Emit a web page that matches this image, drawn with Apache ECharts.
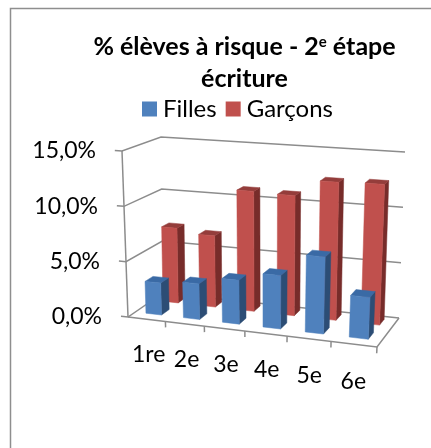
<!DOCTYPE html>
<html><head><meta charset="utf-8">
<style>html,body{margin:0;padding:0;background:#fff}#c{width:431px;height:448px}</style>
<script src="https://cdn.jsdelivr.net/npm/echarts@6/dist/echarts.min.js"></script>
</head><body><div id="c"></div>
<script>
const categories = ['1re','2e','3e','4e','5e','6e'];
const filles = [2.9,3.2,3.9,4.7,6.7,3.6];
const garcons = [7.0,6.6,11.0,10.9,12.4,12.5];
const yTicks = [0,5,10,15];
const seriesNames = ['Filles','Garçons'];
const titleText = '% élèves à risque - 2{sup|e} étape\nécriture';

// Perspective of the box
const FONT='Lato', GRID={left:128,top:151,width:271,height:166};
const FLOOR=[[128,317],[377,347],[399,318],[163,293]];
const ROOF=[[122,151],[386,170],[405,152],[161,137]];
function homog(q){
  const [[x0,y0],[x1,y1],[x2,y2],[x3,y3]]=q;
  const dx1=x1-x2,dx2=x3-x2,sx=x0-x1+x2-x3,dy1=y1-y2,dy2=y3-y2,sy=y0-y1+y2-y3;
  const d=dx1*dy2-dx2*dy1,g=(sx*dy2-dx2*sy)/d,h=(dx1*sy-sx*dy1)/d;
  const a=x1-x0+g*x1,b=x3-x0+h*x3,e=y1-y0+g*y1,f=y3-y0+h*y3;
  return (u,w)=>{const k=g*u+h*w+1;return [(a*u+b*w+x0)/k,(e*u+f*w+y0)/k];};
}
const HF=homog(FLOOR),HR=homog(ROOF);
function project(u,v,w){const a=HF(u,w),b=HR(u,w);return [a[0]+(b[0]-a[0])*v,a[1]+(b[1]-a[1])*v];}
function norm(p){return [(p[0]-GRID.left)/GRID.width,(GRID.top+GRID.height-p[1])/GRID.height];}

const GRIDCOL='#8c8c8c';
function line(pts){return {type:'polyline',shape:{points:pts},style:{stroke:GRIDCOL,lineWidth:1.5,fill:null}};}

function barRender(w0,w1,front,side,top){
  return function(params,api){
    const base=api.coord([api.value(0),0]),tip=api.coord([api.value(0),api.value(1)]);
    const cw=api.size([1,0])[0]/GRID.width;
    const [uc]=norm(base),[,v]=norm(tip);
    const u0=uc-cw*0.21,u1=uc+cw*0.21;
    const poly=(pts,fill)=>({type:'polygon',shape:{points:pts},style:{fill:fill,stroke:fill,lineWidth:0.5}});
    return {type:'group',children:[
      poly([project(u1,0,w0),project(u1,0,w1),project(u1,v,w1),project(u1,v,w0)],side),
      poly([project(u0,v,w0),project(u1,v,w0),project(u1,v,w1),project(u0,v,w1)],top),
      poly([project(u0,0,w0),project(u1,0,w0),project(u1,v,w0),project(u0,v,w0)],front)
    ]};
  };
}
function wallRender(params,api){
  const [,v]=norm(api.coord([0,api.value(0)]));
  const kids=[line([project(-0.032,v,0),project(0,v,0),project(0,v,1),project(1,v,1)])];
  if(params.dataIndex===0){
    kids.push(line([project(0,0,0),project(1,0,0),project(1,0,1)]));
    kids.push(line([project(0,0,0),project(0,1,0)]));
  }
  return {type:'group',children:kids};
}
function xAxisRender(params,api){
  const i=api.value(0),[uc]=norm(api.coord([i,0])),cw=api.size([1,0])[0]/GRID.width;
  const ue=uc+cw/2,p=project(uc,-0.21,0);
  return {type:'group',children:[
    line([project(ue,0,0),project(ue,-0.035,0)]),
    {type:'text',x:p[0]+1,y:p[1],style:{text:categories[i],fontFamily:FONT,fontSize:23,fill:'#000',align:'center',verticalAlign:'middle'}}
  ]};
}
const pad={15:6,10:4,5:2,0:0};
const rich={};yTicks.forEach(t=>{rich['t'+t]={padding:[0,pad[t],0,0],fontFamily:FONT,fontSize:23,color:'#000'};});

const chart=echarts.init(document.getElementById('c'),null,{renderer:'canvas'});
chart.setOption({
  animation:false,backgroundColor:'#fff',
  title:{text:titleText,left:239.5,top:26,textAlign:'center',
    textStyle:{fontFamily:FONT,fontWeight:'bold',fontSize:25,lineHeight:32,color:'#000',
      rich:{sup:{fontFamily:FONT,fontWeight:'bold',fontSize:15,color:'#000',padding:[0,0,10,0]}}}},
  legend:{data:seriesNames,left:142,top:97,padding:0,itemWidth:15,itemHeight:15,itemGap:9,icon:'rect',
    textStyle:{fontFamily:FONT,fontSize:24,color:'#000',padding:[0,0,0,1]}},
  grid:GRID,
  xAxis:{type:'category',data:categories,show:false},
  yAxis:{type:'value',min:0,max:15,interval:5,splitLine:{show:false},axisLine:{show:false},axisTick:{show:false},
    axisLabel:{margin:26,formatter:v=>'{t'+v+'|'+v.toFixed(1).replace('.',',')+'%}',rich:rich}},
  graphic:[{type:'polyline',z:100,shape:{points:[[10.5,448],[10.5,8.5],[431,8.5]]},style:{stroke:'#8e8e8e',lineWidth:1.5,fill:null}}],
  series:[
    {name:'Filles',type:'custom',z:4,itemStyle:{color:'#4F81BD'},renderItem:barRender(0.2,0.42,'#4F81BD','#2C4D75','#3A6AA5'),
      encode:{x:0,y:1},data:filles.map((v,i)=>[i,v])},
    {name:'Garçons',type:'custom',z:3,itemStyle:{color:'#C0504D'},renderItem:barRender(0.69,0.9,'#C0504D','#772C2A','#943D3B'),
      encode:{x:0,y:1},data:garcons.map((v,i)=>[i,v])},
    {name:'parois',type:'custom',z:1,renderItem:wallRender,encode:{y:0},data:yTicks.map(t=>[t])},
    {name:'axe',type:'custom',z:2,renderItem:xAxisRender,encode:{x:0},data:categories.map((c,i)=>[i])}
  ]
});
</script></body></html>
